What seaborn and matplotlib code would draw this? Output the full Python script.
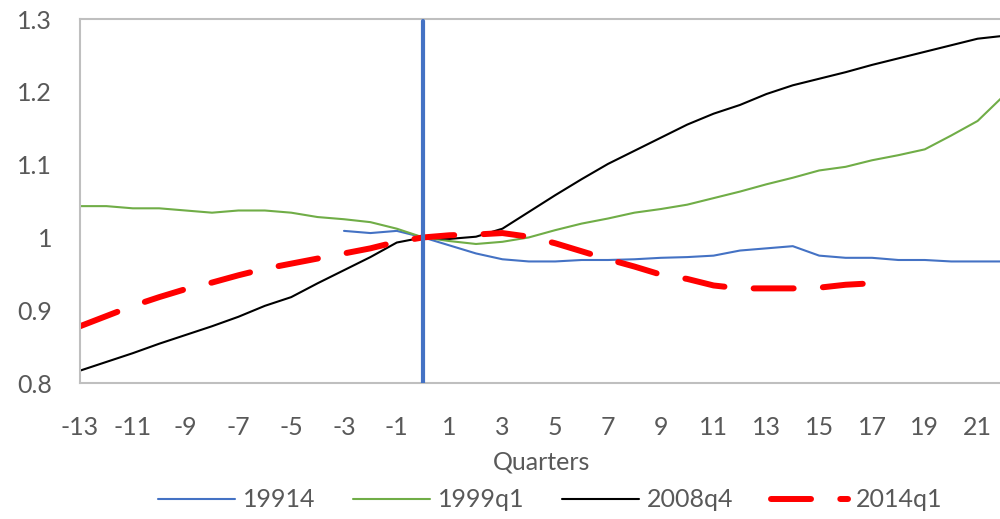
import numpy as np
import pandas as pd
import matplotlib
matplotlib.use('Agg')
import matplotlib.pyplot as plt
from matplotlib.ticker import FuncFormatter
import seaborn as sns

nan = np.nan
quarters = list(range(-13, 23))

s_19914 = [nan, nan, nan, nan, nan, nan, nan, nan, nan, nan,
           1.009, 1.006, 1.009, 1.000, 0.989, 0.978, 0.970, 0.967, 0.967, 0.969,
           0.969, 0.970, 0.972, 0.973, 0.975, 0.982, 0.985, 0.988, 0.975, 0.972,
           0.972, 0.969, 0.969, 0.967, 0.967, 0.967]
s_1999q1 = [1.043, 1.043, 1.040, 1.040, 1.037, 1.034, 1.037, 1.037, 1.034, 1.028,
            1.025, 1.021, 1.012, 1.000, 0.995, 0.991, 0.994, 1.000, 1.010, 1.019,
            1.026, 1.034, 1.039, 1.045, 1.054, 1.063, 1.073, 1.082, 1.092, 1.097,
            1.106, 1.113, 1.121, 1.140, 1.160, 1.195]
s_2008q4 = [0.817, 0.829, 0.841, 0.854, 0.866, 0.878, 0.891, 0.906, 0.918, 0.937,
            0.955, 0.973, 0.993, 1.000, 0.998, 1.001, 1.012, 1.035, 1.058, 1.080,
            1.101, 1.119, 1.137, 1.155, 1.170, 1.182, 1.197, 1.209, 1.218, 1.227,
            1.237, 1.246, 1.255, 1.264, 1.273, 1.277]
s_2014q1 = [0.878, 0.892, 0.906, 0.918, 0.929, 0.938, 0.948, 0.957, 0.964, 0.971,
            0.978, 0.985, 0.994, 1.000, 1.003, 1.004, 1.006, 1.001, 0.992, 0.981,
            0.970, 0.960, 0.949, 0.943, 0.934, 0.930, 0.930, 0.930, 0.931, 0.935,
            0.937, nan, nan, nan, nan, nan]

series_names = ['19914', '1999q1', '2008q4', '2014q1']
series_vals = [s_19914, s_1999q1, s_2008q4, s_2014q1]

sns.set_style('white')
plt.rcParams['font.family'] = ['Lato', 'DejaVu Sans']
TXT = '#595959'
AX = '#BFBFBF'

fig = plt.figure(figsize=(10, 5.19), dpi=100)
ax = fig.add_axes([0.080, 0.262, 0.924, 0.7013])

styles = {
    '19914':  dict(color='#4472C4', lw=1.5),
    '1999q1': dict(color='#70AD47', lw=1.5),
    '2008q4': dict(color='#000000', lw=1.5),
    '2014q1': dict(color='#FF0000', lw=4.3, linestyle=(0, (6.7, 4.9)),
                   dash_capstyle='round'),
}

for name, vals in zip(series_names, series_vals):
    df = pd.DataFrame({'q': quarters, 'v': vals}).dropna()
    sns.lineplot(data=df, x='q', y='v', ax=ax, label=name, **styles[name])

ax.axvline(0, color='#4472C4', lw=3, ymax=0.995, zorder=5)

ax.set_xlim(-13, 22)
ax.set_ylim(0.8, 1.3)
ax.set_xticks(quarters)
ax.set_xticklabels([str(q) if q % 2 else '' for q in quarters])
ax.set_yticks([0.8, 0.9, 1.0, 1.1, 1.2, 1.3])
ax.yaxis.set_major_formatter(FuncFormatter(lambda v, p: f'{v:g}'))
ax.tick_params(axis='both', direction='in', length=6, width=1.5, color=AX,
               labelsize=18, labelcolor=TXT)
ax.tick_params(axis='x', pad=24)
ax.tick_params(axis='y', pad=20)
for side in ('left', 'bottom', 'top'):
    ax.spines[side].set_color(AX)
    ax.spines[side].set_linewidth(1.5)
ax.spines['right'].set_visible(False)

ax.set_xlabel('Quarters', fontsize=18, color=TXT, labelpad=8)
ax.set_ylabel('')

ax.legend(loc='center', bbox_to_anchor=(0.55, 0.037),
          bbox_transform=fig.transFigure, ncol=4, frameon=False,
          fontsize=18, labelcolor=TXT, handlelength=3.1, handletextpad=0.3,
          columnspacing=1.5)

fig.savefig('out.png', dpi=100)
